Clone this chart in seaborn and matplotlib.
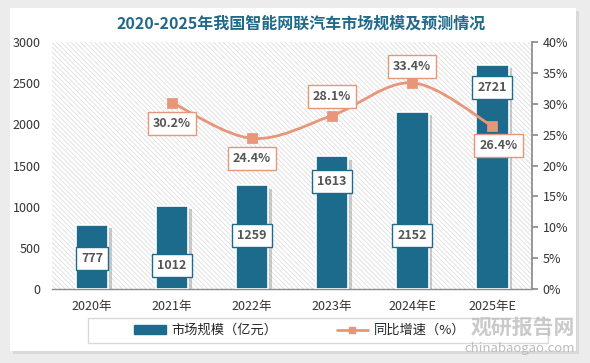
import numpy as np
import pandas as pd
import matplotlib
matplotlib.use("Agg")
import matplotlib.pyplot as plt
import seaborn as sns
from matplotlib.patches import Rectangle
from matplotlib.path import Path
from matplotlib.patches import PathPatch

sns.set_theme(style="white")
plt.rcParams['font.family'] = ['Noto Sans CJK SC', 'DejaVu Sans']
plt.rcParams['hatch.linewidth'] = 0.6

years = ["2020年", "2021年", "2022年", "2023年", "2024年E", "2025年E"]
market_size = [777, 1012, 1259, 1613, 2152, 2721]
growth = [np.nan, 30.2, 24.4, 28.1, 33.4, 26.4]
# where the value boxes sit (bar labels in 亿元, line labels as offset in %)
bar_label_y = [376, 280, 644, 1300, 644, 2453]
line_label_dy = [0, -3.4, -3.2, 3.1, 2.6, -3.2]

bar_color = "#1d6b8c"
line_color = "#e8967a"

df = pd.DataFrame({"year": years, "size": market_size, "growth": growth})

fig = plt.figure(figsize=(5.9, 3.63), dpi=100)
fig.patch.set_facecolor("#ececec")
# white card with a soft shadow
fig.patches.append(Rectangle((0.022, 0.025), 0.960, 0.945, transform=fig.transFigure,
                             facecolor="#d9d9d9", edgecolor="none", zorder=-3))
fig.patches.append(Rectangle((0.017, 0.032), 0.960, 0.945, transform=fig.transFigure,
                             facecolor="white", edgecolor="none", zorder=-2))

ax = fig.add_axes([0.088, 0.204, 0.814, 0.680])
ax.set_facecolor("none")
x = np.arange(len(years))

# hatched plot area
ax.add_patch(Rectangle((-0.5, 0), 6, 3000, facecolor="white", edgecolor="#dedede",
                       hatch="\\\\\\\\\\\\\\", linewidth=0, zorder=0))

sns.barplot(data=df, x="year", y="size", color=bar_color, width=0.41, saturation=1,
            edgecolor="white", linewidth=1.2, ax=ax, zorder=3)
for p in ax.patches[1:]:
    sh = Rectangle((p.get_x() + 0.04, 0), p.get_width(), p.get_height() - 40,
                   facecolor="#9a9a9a", alpha=0.5, edgecolor="none", zorder=2)
    ax.add_patch(sh)

ax.set_xlim(-0.5, 5.5)
ax.set_ylim(0, 3000)
ax.set_yticks(range(0, 3001, 500))
ax.set_xlabel("")
ax.set_ylabel("")
ax.tick_params(axis="y", labelsize=9, colors="#333333", length=0, pad=8)
ax.tick_params(axis="x", labelsize=9, colors="#333333", length=0, pad=8)
for s in ["top", "left", "right"]:
    ax.spines[s].set_visible(False)
ax.spines["bottom"].set_color("#8c8c8c")
ax.spines["bottom"].set_linewidth(1)

for i, v in enumerate(market_size):
    ax.text(x[i], bar_label_y[i], str(v), ha="center", va="center", fontsize=9,
            fontweight="bold", color="#555555", zorder=6,
            bbox=dict(boxstyle="square,pad=0.4", facecolor="white", edgecolor=bar_color, lw=1))

ax2 = ax.twinx()
ax2.set_ylim(0, 40)
ax2.set_yticks(range(0, 41, 5))
ax2.set_yticklabels([f"{t}%" for t in range(0, 41, 5)])
ax2.tick_params(axis="y", labelsize=9, colors="#333333", length=4, color="#8c8c8c", direction="out")
for s in ["top", "left", "bottom"]:
    ax2.spines[s].set_visible(False)
ax2.spines["right"].set_color("#8c8c8c")

# smooth line through the growth points (Catmull-Rom as cubic Bezier)
gx = x[1:]
gy = np.array(growth[1:])
pts = np.column_stack([gx, gy])
verts = [pts[0]]
codes = [Path.MOVETO]
for k in range(len(pts) - 1):
    p0 = pts[k - 1] if k > 0 else pts[k]
    p1, p2 = pts[k], pts[k + 1]
    p3 = pts[k + 2] if k + 2 < len(pts) else pts[k + 1]
    c1 = p1 + (p2 - p0) / 6
    c2 = p2 - (p3 - p1) / 6
    verts += [c1, c2, p2]
    codes += [Path.CURVE4] * 3
ax2.add_patch(PathPatch(Path(verts, codes), facecolor="none", edgecolor=line_color, lw=2, zorder=4))
sns.scatterplot(x=gx, y=gy, marker="s", s=45, color=line_color, edgecolor=line_color, ax=ax2, zorder=5)

for i in range(1, len(years)):
    ax2.text(x[i] + (0.08 if i == 5 else 0), growth[i] + line_label_dy[i], f"{growth[i]:.1f}%",
             ha="center", va="center", fontsize=9, fontweight="bold", color="#555555", zorder=6,
             bbox=dict(boxstyle="square,pad=0.4", facecolor="white", edgecolor=line_color, lw=1))

fig.text(0.51, 0.935, "2020-2025年我国智能网联汽车市场规模及预测情况", ha="center", va="center",
         fontsize=11.5, fontweight="bold", color="#1f6a8a")

# legend box
fig.patches.append(Rectangle((0.149, 0.055), 0.78, 0.068, transform=fig.transFigure,
                             facecolor="white", edgecolor="#d9d9d9", lw=1, zorder=-1))
h1 = plt.Rectangle((0, 0), 1, 1, color=bar_color)
h2 = plt.Line2D([0], [0], color=line_color, lw=2, marker="s", markersize=5)
leg = fig.legend([h1, h2], ["市场规模（亿元）", "同比增速（%）"], loc="center",
                 bbox_to_anchor=(0.508, 0.089), ncol=2, frameon=False, fontsize=9.5,
                 columnspacing=4.5, handlelength=2.4, handletextpad=0.4)

fig.text(0.975, 0.1, "观研报告网", ha="right", va="center", fontsize=15, fontweight="bold",
         color="#bdbdbd", alpha=0.8)
fig.text(0.975, 0.04, "chinabaogao.com", ha="right", va="center", fontsize=9.5, color="#bdbdbd")

fig.savefig("out.png", dpi=100, facecolor=fig.get_facecolor())
